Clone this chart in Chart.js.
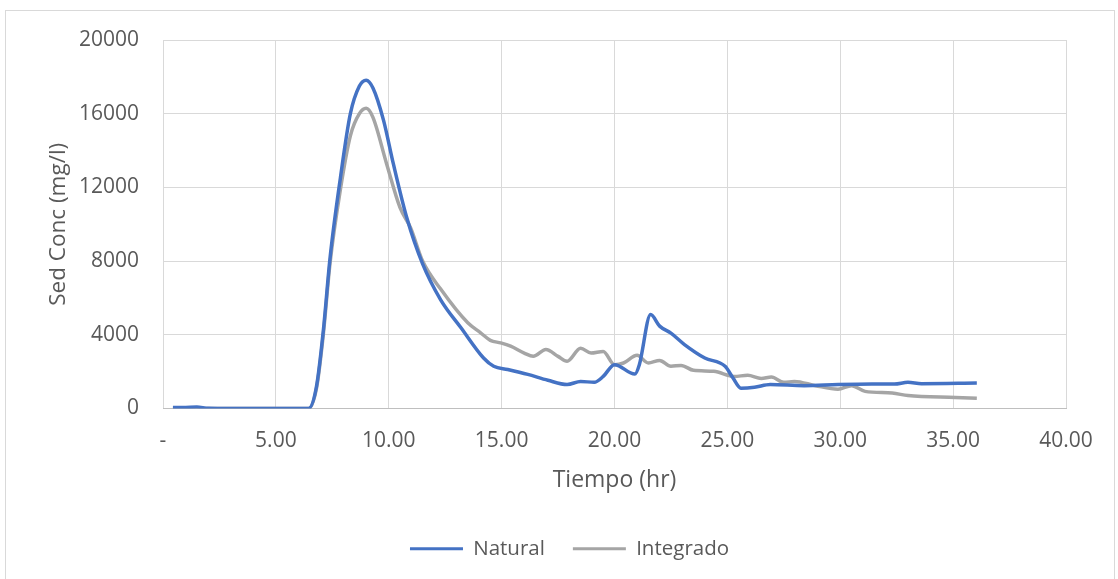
<!DOCTYPE html>
<html>
<head>
<meta charset="utf-8">
<script src="https://cdn.jsdelivr.net/npm/chart.js@4"></script>
<style>
  html, body { margin: 0; padding: 0; background: #fff; overflow: hidden; }
  #frame { position: absolute; left: 5px; top: 10px; width: 1108px; height: 590px; border: 1px solid #d9d9d9; }
  #chart { display: block; }
</style>
</head>
<body>
<div id="frame"><canvas id="chart" width="1108" height="568"></canvas></div>
<script>
// Natural series (time in hr, sediment concentration in mg/l)
const timeNatural = [0.44, 1.0, 1.5, 2.0, 3.0, 4.0, 5.0, 6.0, 6.45, 6.8, 7.1, 7.4, 7.86, 8.3, 8.7, 9.0, 9.3, 9.77, 10.2, 10.8, 11.5, 12.3, 13.2, 14.2, 14.65, 15.27, 16.16, 17.05, 17.9, 18.5, 19.1, 19.5, 20.0, 20.9, 21.1, 21.6, 22.0, 22.5, 23.1, 24.0, 24.9, 25.25, 25.6, 26.2, 26.9, 28.4, 29.9, 31.4, 32.4, 33.0, 33.6, 36.05];
const natural = [50, 60, 80, 10, 0, 0, 0, 0, 0, 1200, 4200, 8170, 12530, 16000, 17500, 17820, 17400, 15640, 13300, 10350, 7850, 5900, 4380, 2740, 2290, 2120, 1850, 1530, 1300, 1470, 1420, 1740, 2380, 1870, 2380, 5100, 4470, 4090, 3470, 2740, 2290, 1650, 1100, 1150, 1300, 1240, 1300, 1330, 1330, 1420, 1350, 1380];

// Integrado series
const timeIntegrado = [0.44, 2.0, 3.0, 4.0, 5.0, 6.0, 6.45, 6.8, 7.1, 7.4, 7.86, 8.3, 8.7, 9.0, 9.3, 9.9, 10.5, 10.97, 11.5, 12.3, 13.5, 14.07, 14.5, 14.96, 15.4, 16.0, 16.4, 16.96, 17.5, 17.9, 18.5, 18.96, 19.5, 20.0, 20.4, 21.0, 21.5, 22.0, 22.5, 22.95, 23.5, 24.4, 25.3, 25.9, 26.5, 26.95, 27.5, 27.97, 28.9, 29.9, 30.5, 31.1, 32.3, 33.0, 35.1, 36.05];
const integrado = [0, 0, 0, 0, 0, 0, 0, 1100, 4000, 7900, 11900, 14800, 16000, 16290, 15800, 13300, 10900, 9800, 8000, 6480, 4650, 4110, 3700, 3560, 3380, 3010, 2830, 3200, 2830, 2560, 3270, 3010, 3100, 2380, 2470, 2890, 2470, 2610, 2290, 2340, 2070, 2020, 1740, 1800, 1630, 1710, 1420, 1470, 1240, 1050, 1240, 930, 840, 700, 600, 560];

const xTicks = [0, 5, 10, 15, 20, 25, 30, 35, 40];
const yTicks = [0, 4000, 8000, 12000, 16000, 20000];

function toPoints(xs, ys) {
    return xs.map((x, i) => ({ x: x, y: ys[i] }));
}

const textColor = '#595959';
const fontFamily = '"Open Sans", sans-serif';

const ctx = document.getElementById('chart').getContext('2d');
const sedChart = new Chart(ctx, {
    type: 'line',
    data: {
        datasets: [{
            label: 'Natural',
            data: toPoints(timeNatural, natural),
            borderColor: '#4472C4',
            backgroundColor: '#4472C4',
            borderWidth: 3.5,
            pointRadius: 0,
            cubicInterpolationMode: 'monotone'
        }, {
            label: 'Integrado',
            data: toPoints(timeIntegrado, integrado),
            borderColor: '#A5A5A5',
            backgroundColor: '#A5A5A5',
            borderWidth: 3.5,
            pointRadius: 0,
            cubicInterpolationMode: 'monotone'
        }]
    },
    options: {
        responsive: false,
        animation: false,
        layout: { padding: { top: 29, right: 0, left: 19, bottom: 10 } },
        plugins: {
            tooltip: { enabled: false },
            legend: {
                position: 'bottom',
                labels: {
                    color: textColor,
                    font: { family: fontFamily, size: 20.5 },
                    boxWidth: 53,
                    boxHeight: 3,
                    padding: 28,
                    generateLabels: function(chart) {
                        return chart.data.datasets.map((ds, i) => ({
                            text: ds.label,
                            fillStyle: ds.borderColor,
                            strokeStyle: ds.borderColor,
                            lineWidth: 0,
                            fontColor: textColor,
                            datasetIndex: i
                        }));
                    }
                }
            }
        },
        scales: {
            x: {
                type: 'linear',
                min: 0,
                max: 40,
                afterBuildTicks: function(scale) {
                    scale.ticks = xTicks.map(v => ({ value: v }));
                },
                afterFit: function(scale) { scale.height = 102; },
                grid: { color: '#d9d9d9', lineWidth: 1, drawTicks: false },
                border: { color: '#bfbfbf', width: 1 },
                ticks: {
                    color: textColor,
                    font: { family: fontFamily, size: 21 },
                    padding: 20,
                    maxRotation: 0,
                    callback: v => v === 0 ? '-' : v.toFixed(2)
                },
                title: {
                    display: true,
                    text: 'Tiempo (hr)',
                    color: textColor,
                    font: { family: fontFamily, size: 23 },
                    padding: { top: 10, bottom: 16 }
                }
            },
            y: {
                min: 0,
                max: 20000,
                afterBuildTicks: function(scale) {
                    scale.ticks = yTicks.map(v => ({ value: v }));
                },
                afterFit: function(scale) {
                    scale.width = 138;
                    // tick padding would otherwise push the plot top down
                    scale.paddingTop = 0;
                    scale.paddingBottom = 0;
                },
                grid: { color: '#d9d9d9', lineWidth: 1, drawTicks: false },
                border: { display: false },
                ticks: {
                    color: textColor,
                    font: { family: fontFamily, size: 21 },
                    padding: 24,
                    callback: v => String(v)
                },
                title: {
                    display: true,
                    text: 'Sed Conc (mg/l)',
                    color: textColor,
                    font: { family: fontFamily, size: 22.5 },
                    padding: { top: 20 }
                }
            },
            // empty right-hand axis that only keeps the gap on the right of the plot
            yRight: {
                position: 'right',
                min: 0,
                max: 20000,
                afterFit: function(scale) { scale.width = 48; },
                grid: { display: false, drawTicks: false },
                border: { display: false },
                ticks: { display: false }
            }
        }
    }
});
</script>
</body>
</html>
